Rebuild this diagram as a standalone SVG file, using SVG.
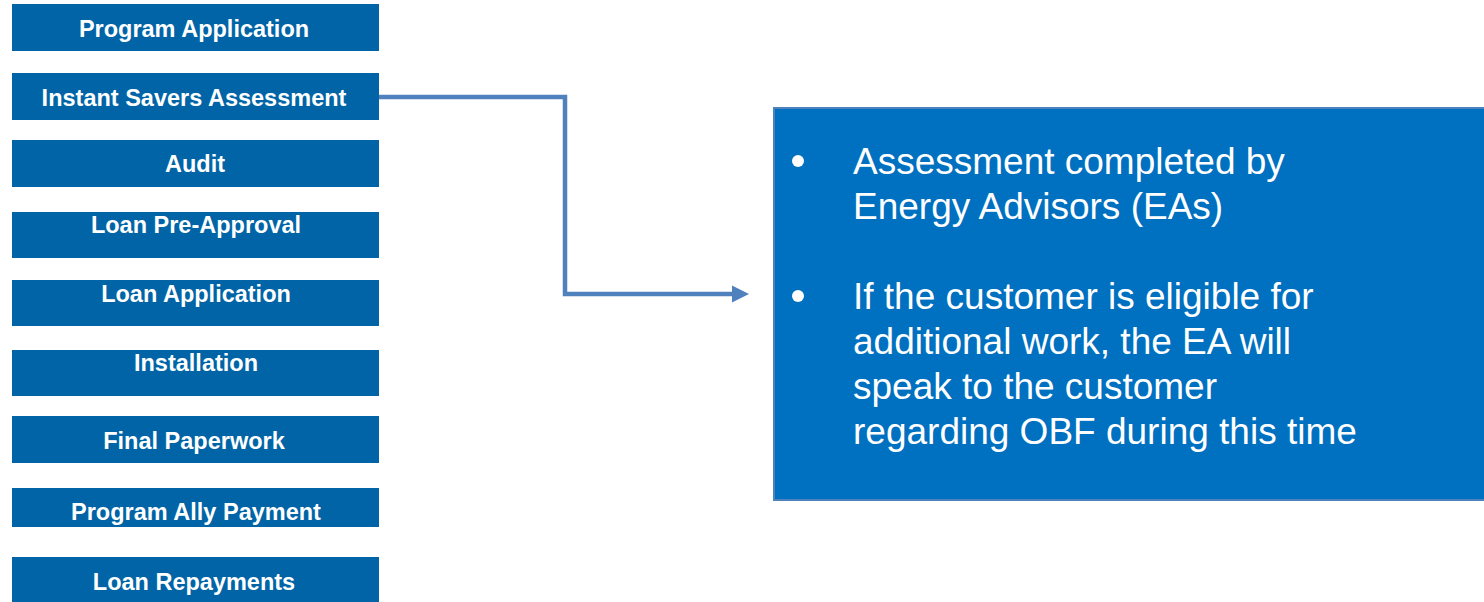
<svg xmlns="http://www.w3.org/2000/svg" width="1484" height="602" viewBox="0 0 1484 602">
<defs>
<style>
.step rect{fill:#0064a6}
.step text{fill:#fff;font-family:"Liberation Sans",Arial,sans-serif;font-weight:bold;font-size:23.5px;text-anchor:middle}
.conn{fill:none;stroke:#4f81bd;stroke-width:4.5}
.info text{fill:#fff;font-family:"Liberation Sans",Arial,sans-serif;font-size:37px}
</style>
<marker id="arr" markerUnits="userSpaceOnUse" markerWidth="20" markerHeight="20" refX="3" refY="10" orient="auto">
<path d="M0,1.5 L17,10 L0,18.5 Z" fill="#4f81bd"/>
</marker>
</defs>
<rect width="1484" height="602" fill="#fff"/>
<g id="n1" class="step"><rect x="12" y="4" width="367" height="47"/><text x="194" y="37">Program Application</text></g>
<g id="n2" class="step"><rect x="12" y="73" width="367" height="47"/><text x="194" y="106">Instant Savers Assessment</text></g>
<g id="n3" class="step"><rect x="12" y="140" width="367" height="47"/><text x="195" y="172">Audit</text></g>
<g id="n4" class="step"><rect x="12" y="212" width="367" height="46"/><text x="196" y="233">Loan Pre-Approval</text></g>
<g id="n5" class="step"><rect x="12" y="280" width="367" height="46"/><text x="196" y="302">Loan Application</text></g>
<g id="n6" class="step"><rect x="12" y="350" width="367" height="46"/><text x="196" y="371">Installation</text></g>
<g id="n7" class="step"><rect x="12" y="416" width="367" height="47"/><text x="194" y="449">Final Paperwork</text></g>
<g id="n8" class="step"><rect x="12" y="488" width="367" height="39"/><text x="196" y="520">Program Ally Payment</text></g>
<g id="n9" class="step"><rect x="12" y="557" width="367" height="45"/><text x="194" y="590">Loan Repayments</text></g>
<g id="info" class="info">
<rect x="774" y="108" width="712" height="392" fill="#0070c0" stroke="#4f81bd" stroke-width="2"/>
<circle cx="798" cy="161" r="6" fill="#fff"/>
<circle cx="798" cy="296" r="6" fill="#fff"/>
<text x="853" y="174">Assessment completed by</text>
<text x="853" y="219">Energy Advisors (EAs)</text>
<text x="853" y="309">If the customer is eligible for</text>
<text x="853" y="354">additional work, the EA will</text>
<text x="853" y="399">speak to the customer</text>
<text x="853" y="444">regarding OBF during this time</text>
</g>
<g id="connectors">
<path class="conn" d="M379,97 H565 V294 H735" marker-end="url(#arr)"/>
</g>
</svg>
